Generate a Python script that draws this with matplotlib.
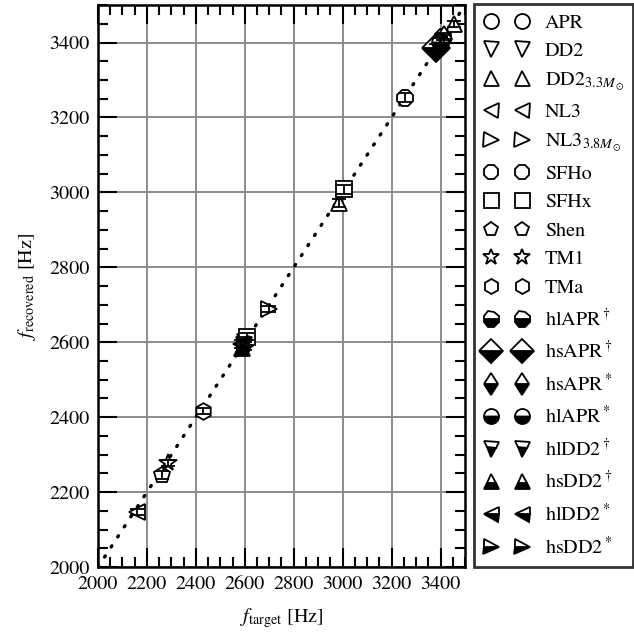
import numpy as np
import matplotlib
matplotlib.use("Agg")
import matplotlib.pyplot as plt
from matplotlib.ticker import MultipleLocator
from matplotlib.legend_handler import HandlerLine2D
from matplotlib.lines import Line2D

plt.rcParams.update(
    {
        "font.family": ["STIXGeneral", "Liberation Serif", "DejaVu Serif"],
        "mathtext.fontset": "stix",
        "font.size": 14.5,
        "axes.linewidth": 1.8,
    }
)

# (label, marker, filled-bottom?, f_target, f_recovered, error)
labels = [
    "APR", "DD2", r"DD2$_{3.3M_\odot}$", "NL3", r"NL3$_{3.8M_\odot}$",
    "SFHo", "SFHx", "Shen", "TM1", "TMa",
    r"hlAPR$^\dagger$", r"hsAPR$^\dagger$", r"hsAPR$^*$", r"hlAPR$^*$",
    r"hlDD2$^\dagger$", r"hsDD2$^\dagger$", r"hlDD2$^*$", r"hsDD2$^*$",
]
markers = ["o", "v", "^", "<", ">", "8", "s", "p", "*", "h",
           "8", "D", "d", "o", "v", "^", "<", ">"]
half_filled = [False] * 10 + [True] * 8
marker_sizes = [12, 12, 12, 12, 12, 12, 12, 12, 13, 12,
                12, 14, 13, 12, 12, 12, 12, 12]

f_target = [
    [3402], [2600], [2985, 3455], [2160], [2700],
    [3255], [3005, 2608], [2262], [2287], [2430],
    [3410], [3383], [3416], [3398],
    [2596], [2590], [2584], [2600],
]
f_recovered = [
    [3406], [2600], [2972, 3450], [2147], [2690],
    [3253], [3008, 2615], [2246], [2278], [2416],
    [3416], [3386], [3410], [3402],
    [2594], [2585], [2596], [2590],
]
f_err = [
    [10], [10], [10, 8], [8], [8],
    [12], [12, 10], [10], [8], [8],
    [10], [10], [10], [10],
    [10], [10], [10], [10],
]

fig = plt.figure(figsize=(6.34, 6.35), dpi=100)
ax = fig.add_axes([0.1546, 0.107, 0.5788, 0.885])

ax.plot([2000, 3500], [2000, 3500], color="k", linestyle=(0, (0.4, 3.2)),
        linewidth=2.4, dash_capstyle="round", zorder=2)

handles = []
for lab, mk, half, ms, xs, ys, es in zip(labels, markers, half_filled, marker_sizes,
                                         f_target, f_recovered, f_err):
    ax.errorbar(xs, ys, yerr=es, fmt="none", ecolor="k", elinewidth=1.3,
                capsize=5, capthick=1.3, zorder=4)
    kw = dict(marker=mk, linestyle="none", markersize=ms, markeredgecolor="k",
              markeredgewidth=1.3, zorder=3)
    if half:
        kw.update(fillstyle="bottom", markerfacecolor="k",
                  markerfacecoloralt="white")
    else:
        kw.update(markerfacecolor="white")
    h, = ax.plot(xs, ys, label=lab, **kw)
    handles.append(h)

ax.set_xlim(2000, 3500)
ax.set_ylim(2000, 3500)
ax.xaxis.set_major_locator(MultipleLocator(200))
ax.yaxis.set_major_locator(MultipleLocator(200))
ax.xaxis.set_minor_locator(MultipleLocator(50))
ax.yaxis.set_minor_locator(MultipleLocator(50))
ax.tick_params(which="both", direction="in", top=True, right=True, width=1.5)
ax.tick_params(which="major", length=14, pad=6)
ax.tick_params(which="minor", length=7)
ax.grid(True, which="major", color="#8c8c8c", linewidth=1.4, zorder=0)
ax.set_axisbelow(True)

ax.set_xlabel(r"$f_\mathrm{target}$ [Hz]", labelpad=10)
ax.set_ylabel(r"$f_\mathrm{recovered}$ [Hz]", labelpad=8)

# two markers per entry, spread apart inside the handle
leg = fig.legend(handles=handles, loc="upper left",
                 bbox_to_anchor=(0.748, 0.993), numpoints=2, markerscale=0.9,
                 handlelength=2.3, handletextpad=0.75, labelspacing=0.52,
                 borderpad=0.45, borderaxespad=0.0, frameon=True,
                 fancybox=False, fontsize=14.5,
                 handler_map={Line2D: HandlerLine2D(marker_pad=0.4)})
frame = leg.get_frame()
frame.set_edgecolor("k")
frame.set_linewidth(2.0)

fig.savefig("out.png", dpi=100)
